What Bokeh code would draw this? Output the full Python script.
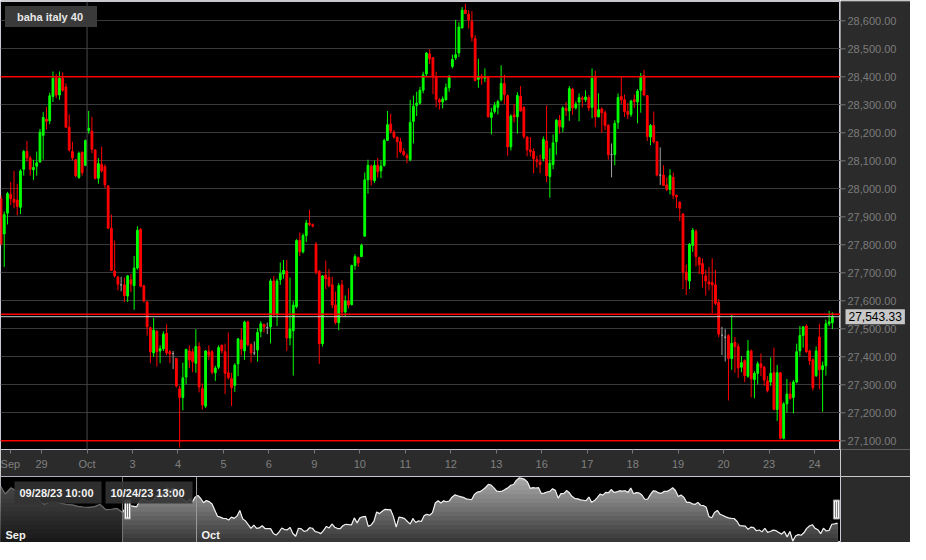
import numpy as np
from bokeh.plotting import figure
from bokeh.layouts import column, row
from bokeh.models import (Range1d, FixedTicker, Span, Label, Grid,
                          Legend, LegendItem, BoxAnnotation, ColumnDataSource)
from bokeh.core.properties import value
from bokeh.embed import file_html
from bokeh.resources import INLINE

# ---------------- data ----------------
opens = [27965, 27839, 27913, 27980, 27963, 27960, 27934, 28070, 28133, 28110, 28068, 28081, 28096, 28191, 28249, 28243, 28330, 28395, 28335, 28395,
         28364, 28220, 28133, 28104, 28041, 28131, 28084, 28208, 28206, 28139, 28038, 28087, 28079, 28010, 27859, 27706, 27685, 27657, 27657, 27617,
         27675, 27654, 27717, 27855, 27654, 27596, 27504, 27414, 27491, 27421, 27429, 27484, 27418, 27412, 27394, 27286, 27255, 27328, 27421, 27418,
         27377, 27437, 27286, 27224, 27418, 27418, 27343, 27363, 27441, 27418, 27343, 27322, 27298, 27375, 27460, 27421, 27525, 27444, 27414, 27424,
         27491, 27516, 27504, 27507, 27671, 27553, 27675, 27696, 27706, 27467, 27493, 27579, 27816, 27775, 27833, 27878, 27872, 27802, 27706, 27447,
         27692, 27683, 27657, 27585, 27522, 27657, 27560, 27599, 27587, 27726, 27754, 27758, 27831, 28032, 28081, 28029, 28084, 28064, 28084, 28173,
         28231, 28202, 28185, 28168, 28133, 28118, 28104, 28241, 28298, 28306, 28352, 28410, 28482, 28468, 28399, 28318, 28310, 28318, 28361, 28437,
         28468, 28485, 28575, 28638, 28624, 28598, 28537, 28391, 28402, 28395, 28399, 28255, 28276, 28291, 28318, 28376, 28333, 28150, 28264, 28257,
         28330, 28291, 28185, 28139, 28133, 28104, 28095, 28107, 28171, 28044, 28087, 28168, 28245, 28220, 28287, 28278, 28356, 28289, 28310, 28324,
         28318, 28326, 28291, 28402, 28257, 28285, 28272, 28226, 28122, 28122, 28237, 28330, 28318, 28276, 28266, 28318, 28310, 28352, 28404, 28333,
         28185, 28226, 28168, 28049, 28049, 28014, 27998, 28041, 27977, 27952, 27910, 27702, 27671, 27798, 27848, 27754, 27733, 27689, 27668, 27665,
         27657, 27594, 27477, 27470, 27476, 27394, 27452, 27437, 27363, 27386, 27331, 27421, 27319, 27341, 27375, 27363, 27314, 27310, 27343, 27212,
         27343, 27109, 27232, 27267, 27255, 27310, 27421, 27476, 27510, 27421, 27389, 27333, 27471, 27354, 27368, 27518, 27522]
highs = [27977, 27919, 27989, 28024, 28064, 28018, 28070, 28139, 28171, 28118, 28104, 28133, 28214, 28274, 28292, 28343, 28419, 28410, 28419, 28416,
         28376, 28266, 28168, 28107, 28133, 28133, 28176, 28278, 28257, 28141, 28110, 28150, 28087, 28014, 27908, 27815, 27689, 27686, 27683, 27692,
         27696, 27760, 27866, 27860, 27657, 27599, 27507, 27539, 27495, 27441, 27491, 27516, 27424, 27421, 27396, 27296, 27379, 27429, 27441, 27429,
         27499, 27452, 27305, 27424, 27441, 27424, 27368, 27441, 27444, 27447, 27487, 27343, 27377, 27467, 27502, 27529, 27529, 27448, 27455, 27502,
         27527, 27518, 27522, 27679, 27689, 27679, 27737, 27746, 27746, 27683, 27599, 27820, 27844, 27841, 27889, 27925, 27876, 27810, 27709, 27692,
         27744, 27714, 27686, 27633, 27663, 27675, 27619, 27644, 27729, 27767, 27758, 27804, 28058, 28104, 28087, 28101, 28110, 28102, 28179, 28278,
         28268, 28210, 28185, 28182, 28145, 28127, 28318, 28333, 28347, 28364, 28418, 28488, 28499, 28471, 28418, 28324, 28330, 28376, 28407, 28479,
         28603, 28595, 28649, 28661, 28638, 28635, 28549, 28464, 28410, 28430, 28402, 28289, 28310, 28318, 28441, 28407, 28337, 28266, 28303, 28345,
         28367, 28295, 28187, 28185, 28145, 28118, 28122, 28187, 28298, 28145, 28194, 28249, 28264, 28295, 28310, 28367, 28361, 28312, 28341, 28332,
         28352, 28335, 28430, 28422, 28341, 28291, 28280, 28231, 28162, 28245, 28341, 28399, 28337, 28306, 28318, 28337, 28356, 28414, 28425, 28335,
         28231, 28276, 28171, 28148, 28084, 28041, 28070, 28058, 27979, 27956, 27913, 27729, 27806, 27860, 27856, 27758, 27752, 27711, 27721, 27752,
         27711, 27606, 27507, 27499, 27481, 27550, 27471, 27448, 27402, 27391, 27460, 27426, 27349, 27383, 27412, 27368, 27331, 27398, 27433, 27371,
         27345, 27238, 27321, 27310, 27317, 27447, 27510, 27510, 27516, 27426, 27394, 27437, 27518, 27383, 27533, 27564, 27559]
lows = [27798, 27721, 27873, 27942, 27931, 27905, 27910, 28047, 28098, 28047, 28032, 28047, 28093, 28104, 28212, 28231, 28310, 28324, 28318, 28347,
        28218, 28133, 28102, 28041, 28035, 28047, 28081, 28197, 28127, 28033, 28018, 28058, 28003, 27856, 27706, 27683, 27637, 27634, 27596, 27596,
        27631, 27568, 27711, 27648, 27594, 27476, 27377, 27400, 27365, 27377, 27421, 27406, 27377, 27356, 27290, 27076, 27209, 27302, 27360, 27345,
        27343, 27273, 27212, 27217, 27389, 27337, 27314, 27356, 27412, 27267, 27319, 27224, 27275, 27331, 27406, 27389, 27437, 27379, 27406, 27383,
        27470, 27487, 27481, 27448, 27545, 27510, 27657, 27679, 27421, 27441, 27333, 27573, 27760, 27769, 27810, 27867, 27862, 27694, 27375, 27437,
        27642, 27648, 27573, 27516, 27495, 27545, 27545, 27573, 27583, 27711, 27721, 27756, 27830, 27983, 28012, 28021, 28041, 28038, 28079, 28171,
        28197, 28179, 28110, 28127, 28116, 28091, 28098, 28162, 28260, 28301, 28341, 28402, 28445, 28338, 28291, 28283, 28287, 28315, 28347, 28430,
        28460, 28471, 28572, 28624, 28572, 28526, 28384, 28361, 28372, 28381, 28255, 28194, 28268, 28266, 28312, 28303, 28118, 28137, 28237, 28197,
        28276, 28179, 28116, 28116, 28056, 28076, 28056, 28098, 28024, 27968, 28070, 28122, 28197, 28202, 28260, 28243, 28264, 28283, 28241, 28291,
        28310, 28278, 28252, 28220, 28255, 28199, 28210, 28104, 28041, 28084, 28214, 28303, 28257, 28249, 28257, 28289, 28234, 28272, 28330, 28171,
        28156, 28162, 28044, 28014, 28010, 27991, 27980, 27963, 27931, 27885, 27642, 27621, 27642, 27775, 27723, 27696, 27648, 27619, 27637, 27556,
        27585, 27470, 27406, 27383, 27244, 27354, 27343, 27325, 27345, 27310, 27325, 27255, 27252, 27302, 27331, 27296, 27273, 27296, 27209, 27171,
        27105, 27105, 27201, 27247, 27198, 27305, 27402, 27433, 27414, 27371, 27279, 27328, 27284, 27204, 27333, 27510, 27499]
closes = [27804, 27908, 27983, 27965, 27952, 27937, 28064, 28133, 28110, 28070, 28076, 28093, 28202, 28255, 28241, 28332, 28395, 28335, 28395, 28352,
          28220, 28139, 28110, 28047, 28127, 28058, 28173, 28216, 28141, 28038, 28090, 28064, 28014, 27860, 27709, 27689, 27659, 27657, 27619, 27689,
          27660, 27717, 27852, 27652, 27599, 27507, 27418, 27495, 27418, 27429, 27481, 27414, 27410, 27412, 27296, 27255, 27325, 27426, 27389, 27383,
          27437, 27293, 27228, 27421, 27406, 27345, 27360, 27433, 27421, 27341, 27325, 27290, 27371, 27464, 27429, 27524, 27444, 27414, 27414, 27487,
          27518, 27507, 27504, 27671, 27550, 27671, 27698, 27709, 27467, 27499, 27585, 27815, 27775, 27833, 27878, 27873, 27867, 27702, 27447, 27689,
          27679, 27654, 27585, 27522, 27654, 27560, 27599, 27585, 27726, 27758, 27735, 27798, 28032, 28084, 28032, 28084, 28061, 28081, 28173, 28229,
          28206, 28185, 28168, 28133, 28122, 28110, 28237, 28295, 28306, 28352, 28407, 28485, 28464, 28399, 28320, 28310, 28321, 28361, 28399, 28462,
          28479, 28578, 28638, 28626, 28603, 28541, 28387, 28402, 28395, 28402, 28257, 28272, 28298, 28312, 28376, 28337, 28150, 28260, 28257, 28333,
          28278, 28187, 28139, 28133, 28107, 28098, 28087, 28176, 28047, 28091, 28164, 28245, 28222, 28289, 28280, 28358, 28289, 28303, 28326, 28320,
          28328, 28289, 28395, 28257, 28283, 28272, 28226, 28122, 28122, 28234, 28326, 28318, 28276, 28266, 28314, 28312, 28349, 28402, 28335, 28187,
          28226, 28168, 28049, 28049, 28012, 27998, 28047, 27977, 27971, 27931, 27702, 27675, 27802, 27852, 27758, 27729, 27696, 27671, 27660, 27657,
          27591, 27481, 27477, 27470, 27394, 27448, 27437, 27360, 27379, 27333, 27421, 27321, 27341, 27375, 27363, 27317, 27279, 27341, 27212, 27343,
          27109, 27232, 27267, 27252, 27310, 27418, 27476, 27507, 27418, 27386, 27290, 27421, 27354, 27368, 27518, 27525, 27543.33]

# closes before the visible window, shown only in the navigator (every 2nd bar)
pre_closes = [28480, 28250, 28400, 28330, 28300, 28260, 28200, 28100, 28000, 28055, 28050,
              28030, 27995, 27985, 27950, 27935, 27925, 27945, 28000, 27870, 27880, 27900]

day_labels = ["Sep", "29", "Oct", "3", "4", "5", "6", "9", "10", "11", "12", "13",
              "16", "17", "18", "19", "20", "23", "24"]
bars_per_day = [13, 14, 14, 14, 14, 14, 14, 14, 14, 14, 14, 14, 14, 14, 14, 14, 14, 14, 6]
price_ticks = [27100, 27200, 27300, 27400, 27500, 27600, 27700, 27800,
               27900, 28000, 28100, 28200, 28300, 28400, 28500, 28600]
level_lines = [28400, 27552, 27100]
range_labels = ["09/28/23  10:00", "10/24/23  13:00"]

# ---------------- styling ----------------
FONT = "Liberation Sans"
GREEN, RED, GREY = "#00ff00", "#ff0000", "#a0a0a0"
BG = "#2b2b2b"
H_MAIN, TOP, BOT = 476, 1, 27

o = np.array(opens, float); h = np.array(highs, float)
l = np.array(lows, float); c = np.array(closes, float)
n = len(c)
idx = np.arange(n)
colors = np.where(c > o, GREEN, np.where(c < o, RED, GREY))
src = ColumnDataSource(dict(x=idx, o=o, h=h, l=l, c=c,
                            top=np.maximum(o, c), bot=np.minimum(o, c), col=colors))

x0, x1 = -0.15, 258.5
yr = Range1d(27069, 28669)
p = figure(width=840, height=H_MAIN, x_range=Range1d(x0, x1), y_range=yr,
           output_backend="svg", toolbar_location=None, y_axis_location=None,
           background_fill_color="black", border_fill_color=BG,
           min_border_left=0, min_border_right=0, min_border_top=TOP, min_border_bottom=BOT)
p.outline_line_color = "#c9cad6"
p.xgrid.visible = False
p.add_layout(Grid(dimension=1, ticker=FixedTicker(ticks=price_ticks), grid_line_color="#3a3a3a"))

# day boundaries -> ticks ("Sep" starts before the window: its label sits at the left edge)
starts = np.concatenate([[0], np.cumsum(bars_per_day)[:-1]]) - 0.5
tick_pos = [float(s) for s in starts]
tick_pos[0] = 2.9
p.xaxis.ticker = FixedTicker(ticks=tick_pos)
p.xaxis.major_label_overrides = {t: lab for t, lab in zip(tick_pos, day_labels)}
p.xaxis.axis_line_color = None
p.xaxis.major_tick_line_color = "#777777"
p.xaxis.major_tick_out = 4
p.xaxis.major_tick_in = 0
p.xaxis.minor_tick_line_color = None
p.xaxis.major_label_standoff = 4
p.xaxis.major_label_text_color = "#808080"
p.xaxis.major_label_text_font = FONT
p.xaxis.major_label_text_font_size = "11px"

# month boundary line
oct_pos = tick_pos[day_labels.index("Oct")]
p.add_layout(Span(location=oct_pos, dimension="height", line_color="#4a4a4a", line_width=1))

# candles
p.segment(x0="x", y0="l", x1="x", y1="h", source=src, line_color="col", line_width=1)
p.vbar(x="x", top="top", bottom="bot", width=0.55, source=src,
       fill_color="col", line_color="col", line_width=1)

# level lines & last price
for lv in level_lines:
    p.add_layout(Span(location=lv, dimension="width", line_color="#ff0000", line_width=1.5))
p.add_layout(Span(location=closes[-1], dimension="width", line_color="#c8c8c8", line_width=1))

# legend
leg_r = p.vbar(x=[], top=[], bottom=[], width=0.5, fill_color=GREEN, line_color=GREEN)
legend = Legend(items=[LegendItem(label="baha italy 40", renderers=[leg_r])],
                location="top_left", margin=5, padding=0, spacing=0,
                glyph_width=3, glyph_height=21, label_height=21, label_width=80,
                label_standoff=9, background_fill_color="#3a3a3a", background_fill_alpha=1,
                border_line_color=None, label_text_color="#e6e6e6",
                label_text_font=FONT, label_text_font_style="bold",
                label_text_font_size="11px")
p.add_layout(legend)

# ---------------- price scale panel (right) ----------------
pa = figure(width=70, height=H_MAIN, x_range=Range1d(0, 70), y_range=yr,
            output_backend="svg", toolbar_location=None,
            x_axis_location=None, y_axis_location=None,
            background_fill_color=BG, border_fill_color=BG,
            min_border_left=0, min_border_right=0, min_border_top=TOP, min_border_bottom=BOT)
pa.outline_line_color = None
pa.grid.visible = False
pa.segment(x0=0, y0=price_ticks, x1=5, y1=price_ticks, line_color="#777777", line_width=1)
pa.text(x=7, y=price_ticks, text=[f"{t:,.2f}" for t in price_ticks],
        text_baseline="middle", text_align="left", text_color="#7c7c7c",
        text_font=value(FONT), text_font_size="11px")
pa.add_layout(Label(x=5, y=closes[-1], text=f"{closes[-1]:,.2f}",
                    text_baseline="middle", text_align="left", text_color="#000000",
                    text_font=FONT, text_font_size="12px",
                    background_fill_color="#c8c8c8", padding=3))

# ---------------- navigator ----------------
nx0, nx1 = -43.7, 257.1
ny0, ny1 = 27076, 28673
nav_x = np.concatenate([np.arange(-2 * len(pre_closes), 0, 2), idx]).astype(float)
nav_y = np.concatenate([np.array(pre_closes, float), c])

nav = figure(width=910, height=66, x_range=Range1d(nx0, nx1), y_range=Range1d(ny0, ny1),
             output_backend="svg", toolbar_location=None,
             x_axis_location=None, y_axis_location=None,
             background_fill_color="black", border_fill_color=BG,
             min_border_left=0, min_border_right=70, min_border_top=0, min_border_bottom=0)
nav.outline_line_color = "#c9cad6"
nav.grid.visible = False

levels = np.linspace(ny0, ny1, 16)[::-1]
for lev in levels:
    t = (lev - ny0) / (ny1 - ny0)
    g = int(0x30 + t * (0xaa - 0x30))
    nav.varea(x=nav_x, y1=ny0, y2=np.minimum(nav_y, lev), fill_color=f"#{g:02x}{g:02x}{g:02x}")
nav.line(nav_x, nav_y, line_color="#eeeeee", line_width=1.2)

nav.add_layout(Span(location=oct_pos, dimension="height", line_color="#9a9a9a", line_width=1))
nav.add_layout(BoxAnnotation(right=0, fill_color="black", fill_alpha=0.55, line_color=None))
nav.add_layout(Span(location=0, dimension="height", line_color="#777777", line_width=1))

ppx = 840 / (nx1 - nx0)
ymid = (ny0 + ny1) / 2
for hx in [0 + 5 / ppx, n - 1 - 1 / ppx]:
    nav.rect(x=hx, y=ymid, width=6, height=19, width_units="screen", height_units="screen",
             fill_color="#ffffff", line_color="#999999", line_width=1)
    nav.segment(x0=[hx - 1 / ppx, hx + 1 / ppx], y0=[ymid - 8 * (ny1 - ny0) / 66] * 2,
                x1=[hx - 1 / ppx, hx + 1 / ppx], y1=[ymid + 8 * (ny1 - ny0) / 66] * 2,
                line_color="#777777", line_width=1)

for txt, xs in zip(range_labels, [14, 105]):
    nav.add_layout(Label(x=xs, y=50, x_units="screen", y_units="screen", text=txt,
                         text_baseline="middle", text_align="left", text_color="#f2f2f2",
                         text_font=FONT, text_font_style="bold", text_font_size="11px",
                         background_fill_color="#333333", background_fill_alpha=0.9, padding=5))
nav.add_layout(Label(x=5, y=8, x_units="screen", y_units="screen", text=day_labels[0],
                     text_baseline="middle", text_align="left", text_color="#f2f2f2",
                     text_font=FONT, text_font_style="bold", text_font_size="11px"))
nav.add_layout(Label(x=oct_pos, y=8, x_offset=5, y_units="screen", text="Oct",
                     text_baseline="middle", text_align="left", text_color="#f2f2f2",
                     text_font=FONT, text_font_style="bold", text_font_size="11px"))

layout = column(row(p, pa, spacing=0), nav, spacing=0)
open("out.html", "w").write(file_html(layout, INLINE))
